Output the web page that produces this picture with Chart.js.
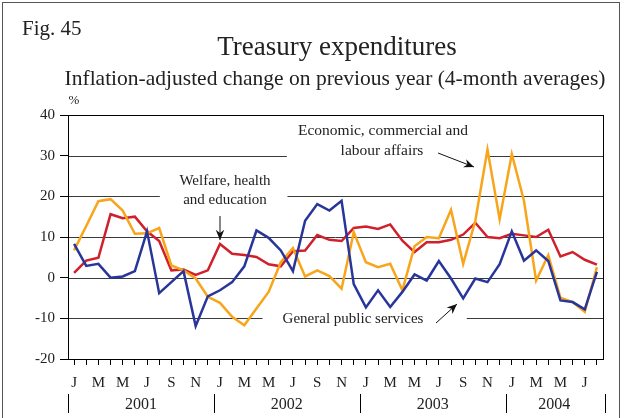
<!DOCTYPE html>
<html>
<head>
<meta charset="utf-8">
<script src="https://cdn.jsdelivr.net/npm/chart.js@4/dist/chart.umd.min.js"></script>
<style>
  html, body { margin: 0; padding: 0; background: #fff; }
  #wrap { position: relative; width: 624px; height: 418px; }
</style>
</head>
<body>
<div id="wrap"><canvas id="treasuryChart"></canvas></div>
<script>
// monthly points, Jan 2001 .. Aug 2004
const years = ['2001', '2002', '2003', '2004'];
const monthInitials = ['J', 'F', 'M', 'A', 'M', 'J', 'J', 'A', 'S', 'O', 'N', 'D'];
const monthsIn2004 = 8;

const economic = [
  6.7, 12.7, 18.8, 19.3, 16.5, 10.8, 10.9, 12.2, 3.0, 1.8, -0.2, -4.7,
  -6.2, -9.6, -11.7, -7.6, -3.5, 3.8, 7.3, 0.3, 1.8, 0.4, -2.7, 11.2,
  3.8, 2.6, 3.4, -3.1, 7.7, 10.0, 9.7, 16.7, 3.4, 14.0, 31.5, 14.4,
  30.4, 18.9, -0.7, 5.5, -4.9, -6.0, -8.4, 2.6
];
const welfare = [
  1.2, 4.2, 4.9, 15.6, 14.6, 15.0, 11.4, 9.0, 1.8, 2.0, 0.7, 1.8,
  8.3, 5.9, 5.6, 5.1, 3.3, 2.8, 6.5, 6.7, 10.5, 9.3, 9.0, 12.2,
  12.6, 12.0, 13.1, 9.1, 6.3, 8.7, 8.7, 9.3, 10.6, 13.5, 10.0, 9.7,
  10.8, 10.4, 10.0, 11.8, 5.2, 6.3, 4.4, 3.2
];
const generalPublic = [
  8.3, 2.9, 3.4, 0.0, 0.3, 1.6, 11.4, -3.8, -1.1, 1.6, -11.9, -4.6,
  -3.1, -1.1, 2.8, 11.6, 9.8, 6.7, 1.6, 14.0, 18.1, 16.5, 18.9, -1.6,
  -7.3, -3.1, -7.2, -3.5, 0.8, -0.7, 4.1, -0.2, -5.1, -0.2, -1.1, 3.3,
  11.4, 4.2, 6.7, 4.1, -5.6, -6.0, -7.8, 1.4
];

const yTicks = [-20, -10, 0, 10, 20, 30, 40];

const labels = [];
years.forEach((y, yi) => {
  const n = yi === years.length - 1 ? monthsIn2004 : 12;
  for (let m = 0; m < n; m++) labels.push(monthInitials[m] + ' ' + y);
});

// gaps in the horizontal grid lines (in month-index units) where the notes sit
const gridGaps = {
  30: [17.5, 33.9],
  20: [7.05, 17.55],
  '-10': [15.5, 32.3]
};

const SERIF = '"Liberation Serif", "Times New Roman", serif';

const decorations = {
  id: 'decorations',
  beforeDatasetsDraw(chart) {
    const { ctx, chartArea: a, scales: { x, y } } = chart;
    ctx.save();
    ctx.strokeStyle = '#3a3a3a';
    ctx.lineWidth = 1;
    yTicks.forEach(v => {
      if (v === -20 || v === 40) return;
      const py = Math.round(y.getPixelForValue(v)) + 0.5;
      const gap = gridGaps[v];
      ctx.beginPath();
      if (gap) {
        ctx.moveTo(a.left, py);
        ctx.lineTo(x.getPixelForValue(gap[0]), py);
        ctx.moveTo(x.getPixelForValue(gap[1]), py);
        ctx.lineTo(a.right, py);
      } else {
        ctx.moveTo(a.left, py);
        ctx.lineTo(a.right, py);
      }
      ctx.stroke();
    });
    ctx.restore();
  },
  afterDraw(chart) {
    const { ctx, chartArea: a, scales: { x } } = chart;
    ctx.save();
    // plot frame
    ctx.strokeStyle = '#000';
    ctx.lineWidth = 1;
    ctx.strokeRect(Math.round(a.left) + 0.5, Math.round(a.top) + 0.5,
      Math.round(a.right - a.left), Math.round(a.bottom - a.top));
    // outer frame
    ctx.strokeStyle = '#555';
    ctx.strokeRect(2.5, 2.5, 617, 430);

    ctx.fillStyle = '#222';
    ctx.textBaseline = 'alphabetic';
    ctx.textAlign = 'left';
    ctx.font = '21px ' + SERIF;
    ctx.fillText('Fig. 45', 22, 35);
    ctx.textAlign = 'center';
    ctx.font = '27px ' + SERIF;
    ctx.fillText('Treasury expenditures', 337, 55);
    ctx.font = '21.5px ' + SERIF;
    ctx.fillText('Inflation-adjusted change on previous year (4-month averages)', 335, 85);
    ctx.font = '13px ' + SERIF;
    ctx.fillText('%', 74, 104);

    // years and separators
    const step = x.getPixelForValue(1) - x.getPixelForValue(0);
    let start = 0;
    ctx.font = '16px ' + SERIF;
    ctx.strokeStyle = '#000';
    years.forEach((yr, yi) => {
      const n = yi === years.length - 1 ? monthsIn2004 : 12;
      const left = x.getPixelForValue(start) - step / 2;
      const right = x.getPixelForValue(start + n - 1) + step / 2;
      ctx.fillText(yr, (left + right) / 2, 409);
      ctx.beginPath();
      ctx.moveTo(Math.round(left) + 0.5, 394);
      ctx.lineTo(Math.round(left) + 0.5, 413);
      if (yi === years.length - 1) {
        ctx.moveTo(Math.round(right) + 2.5, 394);
        ctx.lineTo(Math.round(right) + 2.5, 413);
      }
      ctx.stroke();
      start += n;
    });

    // notes
    ctx.font = '15.5px ' + SERIF;
    ctx.fillStyle = '#222';
    ctx.fillText('Economic, commercial and', 383, 135);
    ctx.fillText('labour affairs', 382, 155);
    ctx.font = '15px ' + SERIF;
    ctx.fillText('Welfare, health', 225, 185);
    ctx.fillText('and education', 225, 204);
    ctx.fillText('General public services', 353, 323);

    const arrow = (x1, y1, x2, y2) => {
      const ang = Math.atan2(y2 - y1, x2 - x1);
      ctx.beginPath();
      ctx.moveTo(x1, y1);
      ctx.lineTo(x2, y2);
      ctx.strokeStyle = '#111';
      ctx.lineWidth = 1;
      ctx.stroke();
      ctx.beginPath();
      ctx.moveTo(x2, y2);
      ctx.lineTo(x2 - 11 * Math.cos(ang - 0.4), y2 - 11 * Math.sin(ang - 0.4));
      ctx.lineTo(x2 - 7 * Math.cos(ang), y2 - 7 * Math.sin(ang));
      ctx.lineTo(x2 - 11 * Math.cos(ang + 0.4), y2 - 11 * Math.sin(ang + 0.4));
      ctx.closePath();
      ctx.fillStyle = '#111';
      ctx.fill();
    };
    arrow(438, 153, 474, 167);
    arrow(220, 216, 220, 240);
    arrow(436, 323, 457, 304);
    ctx.restore();
  }
};

const data = {
  labels: labels,
  datasets: [
    {
      label: 'General public services',
      data: generalPublic,
      borderColor: '#28359a',
      borderWidth: 2.5,
      pointRadius: 0,
      tension: 0
    },
    {
      label: 'Economic, commercial and labour affairs',
      data: economic,
      borderColor: '#f8a51b',
      borderWidth: 2.5,
      pointRadius: 0,
      tension: 0
    },
    {
      label: 'Welfare, health and education',
      data: welfare,
      borderColor: '#d0202c',
      borderWidth: 2.5,
      pointRadius: 0,
      tension: 0
    }
  ]
};

const config = {
  type: 'line',
  data: data,
  options: {
    responsive: true,
    maintainAspectRatio: false,
    animation: false,
    layout: { padding: { left: 0, top: 115, right: 21, bottom: 0 } },
    plugins: {
      legend: { display: false },
      tooltip: { enabled: false }
    },
    scales: {
      x: {
        type: 'category',
        offset: true,
        afterFit: s => { s.height = 59; },
        grid: {
          offset: false,
          drawOnChartArea: false,
          drawTicks: true,
          tickLength: 6,
          tickColor: '#000'
        },
        border: { display: false },
        ticks: {
          autoSkip: false,
          maxRotation: 0,
          minRotation: 0,
          padding: 9,
          color: '#222',
          font: { family: SERIF, size: 15 },
          callback: (val, i) => (i % 2 === 0 ? monthInitials[i % 12] : '')
        }
      },
      y: {
        min: -20,
        max: 40,
        afterFit: s => { s.width = 68; },
        afterBuildTicks: s => { s.ticks = yTicks.map(v => ({ value: v })); },
        grid: {
          drawOnChartArea: false,
          drawTicks: true,
          tickLength: 8,
          tickColor: '#000'
        },
        border: { display: false },
        ticks: {
          padding: 5,
          color: '#222',
          font: { family: SERIF, size: 15 }
        }
      }
    }
  },
  plugins: [decorations]
};

Chart.defaults.font.family = SERIF;
const treasuryChart = new Chart(document.getElementById('treasuryChart'), config);
</script>
</body>
</html>
